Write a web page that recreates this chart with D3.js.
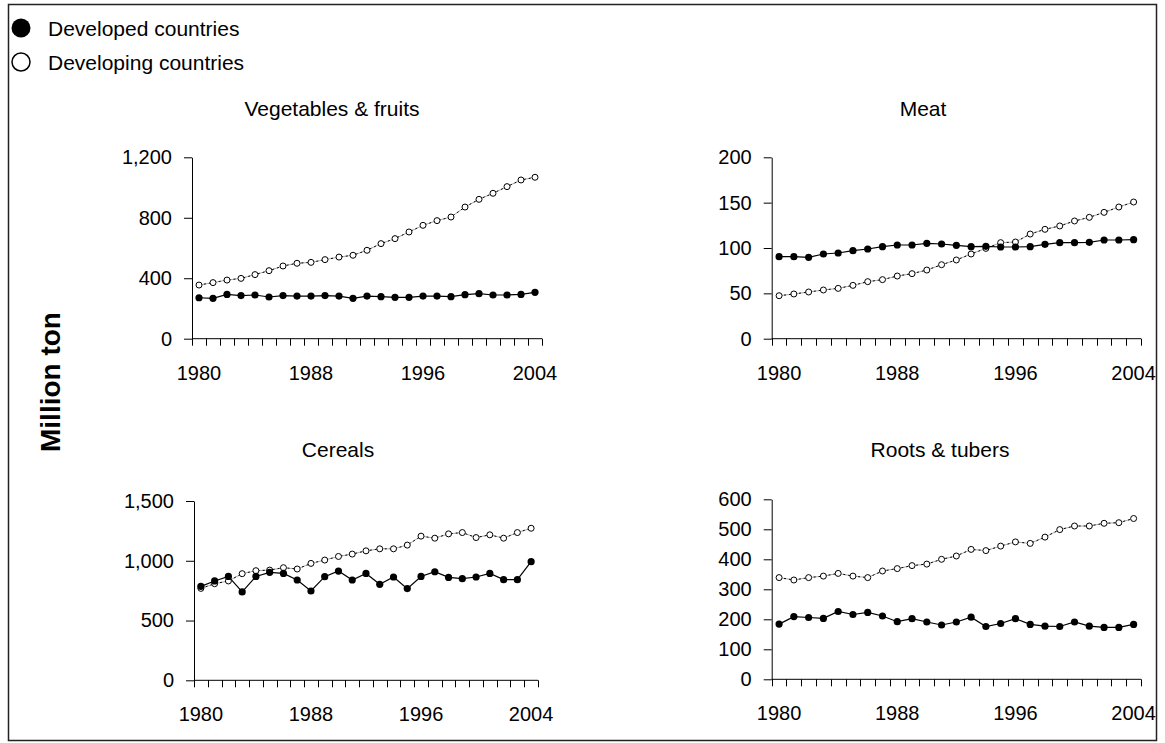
<!DOCTYPE html>
<html>
<head>
<meta charset="utf-8">
<script src="https://cdn.jsdelivr.net/npm/d3@7"></script>
<style>
  body { margin: 0; background: #fff; }
  svg { display: block; font-family: "Liberation Sans", Arial, sans-serif; }
</style>
</head>
<body>
<div class="container"></div>
<script>

// years on the category axis
var years = [1980,1981,1982,1983,1984,1985,1986,1987,1988,1989,1990,1991,1992,
             1993,1994,1995,1996,1997,1998,1999,2000,2001,2002,2003,2004];
var yearLabels = [1980, 1988, 1996, 2004];

// million ton
var vegDeveloped   = [271,267,293,285,289,276,285,282,282,285,282,267,282,278,274,274,282,282,278,291,298,289,289,293,307];
var vegDeveloping  = [355,371,388,399,424,450,481,499,505,523,540,552,585,629,662,706,750,781,805,871,922,962,1006,1050,1068];
var meatDeveloped  = [90.4,90.4,89.7,93.4,94.5,97.1,98.9,101.5,103.3,103.3,105.1,104.4,102.9,101.5,101.8,101.1,101.1,101.5,104,105.9,105.9,106.3,108.8,108.8,109.2];
var meatDeveloping = [47.4,49.3,51.5,53.7,55.5,58.8,62.9,65.1,69.1,71.7,75.7,81.6,86.8,93.4,99.6,105.9,106.6,115.4,120.6,124.3,129.8,133.8,139.3,145.2,150.7];
var cerDeveloped   = [786,831,869,739,869,903,894,839,747,867,914,839,894,803,864,767,869,908,861,850,864,894,842,842,992];
var cerDeveloping  = [769,808,831,892,917,922,942,931,978,1006,1036,1056,1083,1100,1100,1131,1206,1189,1225,1236,1194,1217,1189,1236,1272];
var rootDeveloped  = [184,209,206,203,226,216,223,211,192,202,191,181,191,207,176,186,202,183,177,176,191,177,173,173,183];
var rootDeveloping = [339,331,339,344,353,344,339,361,369,379,384,400,411,433,429,444,458,453,474,499,511,511,520,522,536];

// y ticks for each panel
var vegTicks  = [0, 400, 800, 1200];
var meatTicks = [0, 50, 100, 150, 200];
var cerTicks  = [0, 500, 1000, 1500];
var rootTicks = [0, 100, 200, 300, 400, 500, 600];

var panelTitles = ["Vegetables & fruits", "Meat", "Cereals", "Roots & tubers"];
var legendNames = ["Developed countries", "Developing countries"];

var W = 1165, H = 743;

var svg = d3.select("div.container").append("svg")
    .attr("width", W)
    .attr("height", H);

// outer frame
svg.append("rect")
    .attr("x", 8.5).attr("y", 4.5)
    .attr("width", 1148).attr("height", 736)
    .attr("fill", "none")
    .attr("stroke", "#222")
    .attr("stroke-width", 1.5);

// plot boxes (pixel layout only)
var panels = [
  {title: panelTitles[0], dev: vegDeveloped,  ing: vegDeveloping,  ticks: vegTicks,  x0: 192,   x1: 542,  yTop: 157.3, yBot: 338.7, tx: 332, ty: 116},
  {title: panelTitles[1], dev: meatDeveloped, ing: meatDeveloping, ticks: meatTicks, x0: 771.7, x1: 1141, yTop: 157.3, yBot: 338.7, tx: 923, ty: 116},
  {title: panelTitles[2], dev: cerDeveloped,  ing: cerDeveloping,  ticks: cerTicks,  x0: 194,   x1: 538,  yTop: 501,   yBot: 680.3, tx: 338, ty: 457},
  {title: panelTitles[3], dev: rootDeveloped, ing: rootDeveloping, ticks: rootTicks, x0: 771.7, x1: 1141, yTop: 499.3, yBot: 679.3, tx: 940, ty: 457}
];

panels.forEach(function(p) {
  drawPanel(p);
});

function drawPanel(p)
{
  var g = svg.append("g");

  var x = d3.scaleBand().domain(years).range([p.x0, p.x1]).padding(0);
  var y = d3.scaleLinear()
      .domain([0, p.ticks[p.ticks.length - 1]])
      .range([p.yBot, p.yTop]);
  var bw = x.bandwidth();
  function cx(d, i) { return x(years[i]) + bw / 2; }

  // title
  g.append("text")
      .attr("x", p.tx).attr("y", p.ty)
      .attr("text-anchor", "middle")
      .attr("font-size", 21)
      .text(p.title);

  // y axis
  var yAxis = d3.axisLeft(y)
      .tickValues(p.ticks)
      .tickSize(8)
      .tickSizeOuter(0)
      .tickPadding(12)
      .tickFormat(d3.format(","));
  var ya = g.append("g")
      .attr("transform", "translate(" + p.x0 + ",0)")
      .call(yAxis);
  ya.selectAll("text").attr("font-size", 20).attr("font-family", "Liberation Sans, Arial, sans-serif").attr("fill", "#000");
  ya.selectAll("line, path").attr("stroke", "#000");

  // x axis line
  g.append("line")
      .attr("x1", p.x0).attr("x2", p.x1)
      .attr("y1", p.yBot).attr("y2", p.yBot)
      .attr("stroke", "#000");

  // tick marks between categories
  var edges = years.map(function(d) { return x(d); }).concat([p.x1]);
  g.selectAll(".xtick")
      .data(edges)
      .enter().append("line")
      .attr("x1", function(d) { return Math.round(d) + 0.5; })
      .attr("x2", function(d) { return Math.round(d) + 0.5; })
      .attr("y1", p.yBot)
      .attr("y2", p.yBot + 7)
      .attr("stroke", "#000");

  g.selectAll(".xlab")
      .data(yearLabels)
      .enter().append("text")
      .attr("x", function(d) { return x(d) + bw / 2; })
      .attr("y", p.yBot + 41)
      .attr("text-anchor", "middle")
      .attr("font-size", 20)
      .text(function(d) { return d; });

  var line = d3.line()
      .x(cx)
      .y(function(d) { return y(d); });

  // developing: dotted line, open markers
  g.append("path")
      .datum(p.ing)
      .attr("d", line)
      .attr("fill", "none")
      .attr("stroke", "#aaa")
      .attr("stroke-width", 1);
  g.append("path")
      .datum(p.ing)
      .attr("d", line)
      .attr("fill", "none")
      .attr("stroke", "#000")
      .attr("stroke-width", 1)
      .attr("stroke-dasharray", "2,3");

  // developed: solid line, filled markers
  g.append("path")
      .datum(p.dev)
      .attr("d", line)
      .attr("fill", "none")
      .attr("stroke", "#000")
      .attr("stroke-width", 1.2);

  g.selectAll(".ing")
      .data(p.ing)
      .enter().append("circle")
      .attr("cx", cx)
      .attr("cy", function(d) { return y(d); })
      .attr("r", 3)
      .attr("fill", "#fff")
      .attr("stroke", "#000")
      .attr("stroke-width", 1);

  g.selectAll(".dev")
      .data(p.dev)
      .enter().append("circle")
      .attr("cx", cx)
      .attr("cy", function(d) { return y(d); })
      .attr("r", 3.6)
      .attr("fill", "#000");
}

// y title
svg.append("text")
    .attr("transform", "translate(60,382) rotate(-90)")
    .attr("text-anchor", "middle")
    .attr("font-size", 28)
    .attr("font-weight", "bold")
    .text("Million ton");

// legend
var leg = svg.append("g");
leg.append("circle").attr("cx", 21).attr("cy", 28).attr("r", 9.5).attr("fill", "#000");
leg.append("circle").attr("cx", 21).attr("cy", 62).attr("r", 9).attr("fill", "#fff").attr("stroke", "#000").attr("stroke-width", 1.5);
leg.selectAll(".lt")
    .data(legendNames)
    .enter().append("text")
    .attr("x", 48)
    .attr("y", function(d, i) { return 36 + i * 34; })
    .attr("font-size", 21)
    .text(function(d) { return d; });

</script>
</body>
</html>
